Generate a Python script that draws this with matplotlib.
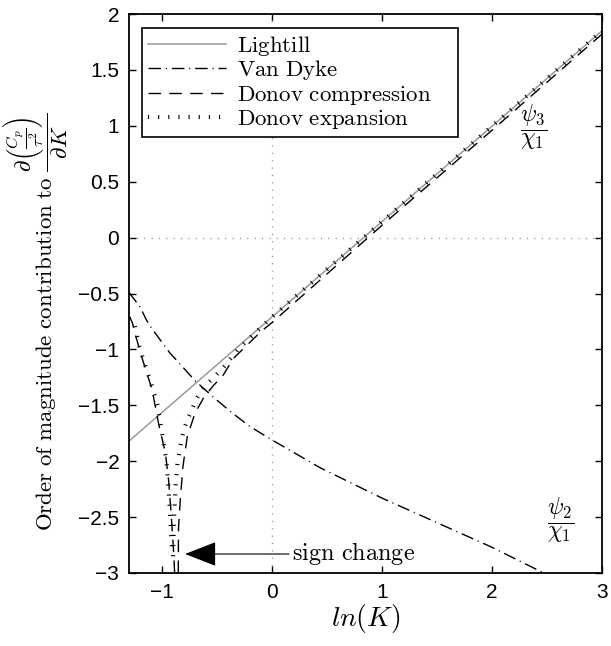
import numpy as np
import matplotlib
matplotlib.use('Agg')
import matplotlib.pyplot as plt

plt.rcParams['mathtext.fontset'] = 'cm'
plt.rcParams['font.family'] = ['Liberation Sans', 'DejaVu Sans']
plt.rcParams['lines.scale_dashes'] = False

# ln(K) / log10 magnitude values
light_x = [-1.3, 3.0]
light_y = [-1.82, 1.85]

vandyke_x = [-1.3, -1.2, -1.14, -1.08, -0.93, -0.8, -0.7, -0.53, -0.36, -0.2, 0.0, 0.44, 1.0, 1.5, 2.0, 2.47]
vandyke_y = [-0.49, -0.62, -0.74, -0.83, -1.03, -1.17, -1.28, -1.43, -1.57, -1.69, -1.81, -2.06, -2.33, -2.55, -2.77, -3.0]

comp_left_x = [-1.3, -1.27, -1.25, -1.19, -1.09, -1.03, -0.97, -0.94, -0.915, -0.895, -0.885]
comp_left_y = [-0.70, -0.76, -0.84, -1.05, -1.36, -1.67, -1.92, -2.17, -2.5, -2.8, -3.0]
comp_right_x = [-0.852, -0.85, -0.834, -0.81, -0.77, -0.70, -0.62, -0.53, -0.45, -0.35, -0.1, 0.0, 1.0, 2.0, 3.0]
comp_right_y = [-3.0, -2.6, -2.35, -2.05, -1.78, -1.57, -1.43, -1.32, -1.24, -1.08, -0.84, -0.76, 0.11, 0.96, 1.82]

exp_left_x = [-1.3, -1.25, -1.2, -1.1, -1.04, -1.0, -0.96, -0.94, -0.925, -0.91]
exp_left_y = [-0.72, -0.78, -1.0, -1.3, -1.5, -1.75, -2.0, -2.25, -2.5, -2.8]
exp_right_x = [-0.9, -0.89, -0.875, -0.86, -0.84, -0.80, -0.76, -0.72, -0.68, -0.62, -0.55, -0.45, -0.3, 0.0, 3.0]
exp_right_y = [-2.85, -2.5, -2.2, -2.03, -1.9, -1.71, -1.61, -1.52, -1.43, -1.34, -1.27, -1.17, -0.99, -0.71, 1.85]

xticks = [-1, 0, 1, 2, 3]
yticks = [-3, -2.5, -2, -1.5, -1, -0.5, 0, 0.5, 1, 1.5, 2]

def fmt(v):
    return '\u2212' + ('%g' % abs(v)) if v < 0 else '%g' % v

fig = plt.figure(figsize=(6.11, 6.46), dpi=100)
ax = fig.add_axes([129/611., 1 - 573/646., 473/611., 559/646.])

ax.axvline(0, color='0.55', ls=(0, (0.8, 4.5)), lw=1)
ax.axhline(0, color='0.55', ls=(0, (0.8, 4.5)), lw=1)

ax.plot(light_x, light_y, color='0.6', lw=1.1, label=r'$\mathrm{Lightill}$')
ax.plot(vandyke_x, vandyke_y, color='k', lw=1, ls=(0, (9, 3.5, 0.8, 3.5)),
        label=r'$\mathrm{Van\ Dyke}$')
ax.plot(comp_left_x + [np.nan] + comp_right_x, comp_left_y + [np.nan] + comp_right_y,
        color='k', lw=1, ls=(0, (9, 6)), label=r'$\mathrm{Donov\ compression}$')
ax.plot(exp_left_x + [np.nan] + exp_right_x, exp_left_y + [np.nan] + exp_right_y,
        color='k', lw=3, ls=(0, (0.8, 6.5)), label=r'$\mathrm{Donov\ expansion}$')

ax.set_xlim(-1.3, 3)
ax.set_ylim(-3, 2)
ax.set_xticks(xticks)
ax.set_yticks(yticks)
ax.set_xticklabels([fmt(v) for v in xticks])
ax.set_yticklabels([fmt(v) for v in yticks])
ax.tick_params(direction='in', top=True, right=True, labelsize=15, length=5, width=1, pad=7)
for s in ax.spines.values():
    s.set_linewidth(1.3)

ax.set_xlabel(r'$ln(K)$', fontsize=20, labelpad=0)
ax.set_ylabel(r'$\mathrm{Order\ of\ magnitude\ contribution\ to}\ \dfrac{\partial\left(\frac{C_p}{\tau^2}\right)}{\partial K}$',
              fontsize=16.5)
ax.yaxis.set_label_coords(-0.125, 0.45)

ax.text(2.38, 0.99, r'$\dfrac{\psi_3}{\chi_1}$', fontsize=17, ha='center', va='center')
ax.text(2.62, -2.53, r'$\dfrac{\psi_2}{\chi_1}$', fontsize=17, ha='center', va='center')

ax.annotate(r'$\mathrm{sign\ change}$', xy=(-0.79, -2.83), xytext=(0.18, -2.83),
            fontsize=17.5, va='center', ha='left',
            arrowprops=dict(arrowstyle='-|>,head_length=1.15,head_width=0.45', color='k', lw=0.8,
                            shrinkA=0, shrinkB=0))

leg = ax.legend(loc='upper left', bbox_to_anchor=(0.0275, 0.776, 0.6685, 0.199), mode='expand',
                fontsize=16.5, handlelength=3.4, handletextpad=0.5, borderpad=0.25,
                labelspacing=0.02, fancybox=False, framealpha=1, borderaxespad=0)
leg.get_frame().set_edgecolor('k')
leg.get_frame().set_linewidth(1.2)

fig.savefig('out.png', dpi=100)
